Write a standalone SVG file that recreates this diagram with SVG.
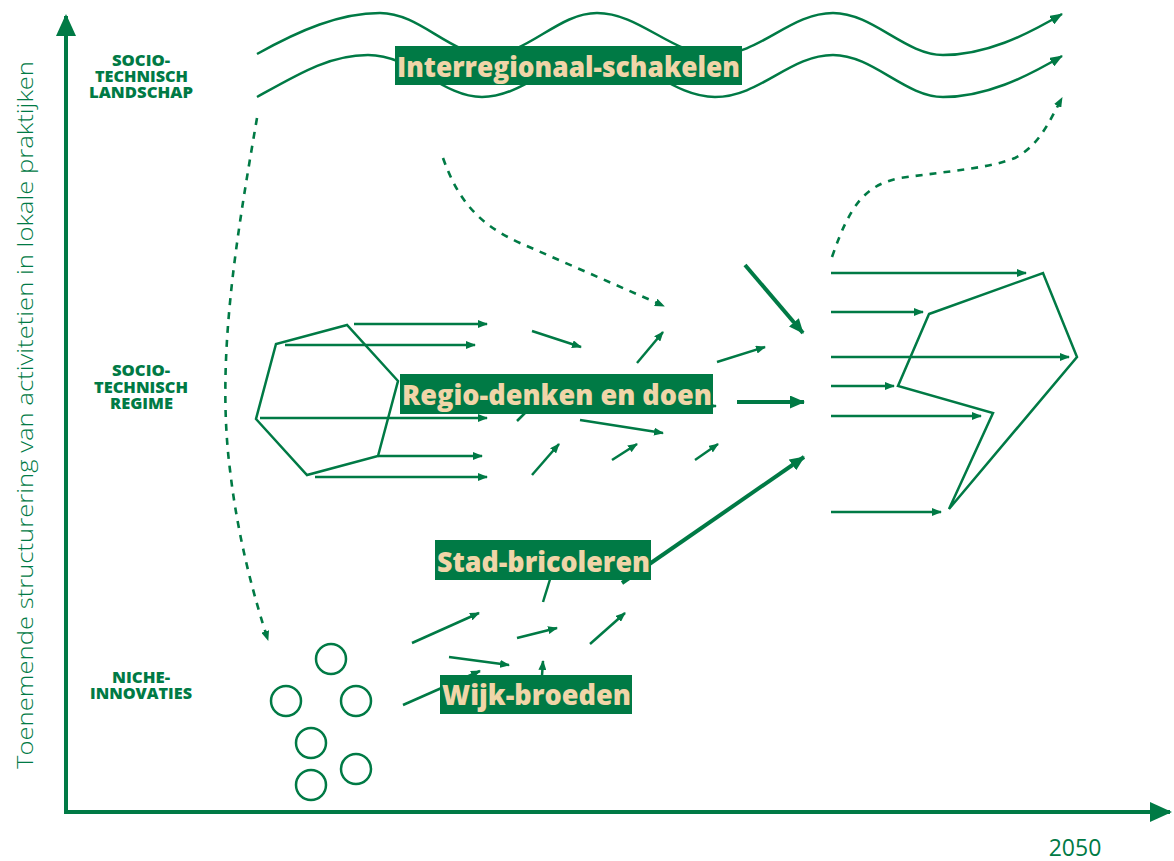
<svg xmlns="http://www.w3.org/2000/svg" width="1174" height="861" viewBox="0 0 1174 861">
  <style>
    .ln { fill: none; stroke: #007A45; stroke-width: 2.5; }
    .thick { fill: none; stroke: #007A45; stroke-width: 4; }
    .dash { fill: none; stroke: #007A45; stroke-width: 2.6; stroke-dasharray: 7 7; }
    .shape { fill: none; stroke: #007A45; stroke-width: 2.5; stroke-linejoin: miter; }
    .axis { fill: none; stroke: #007A45; stroke-width: 4; }
    .lvl { fill: #007A45; font-family: "Open Sans", "Liberation Sans", sans-serif; font-weight: 800; font-size: 15px; }
    .tag rect { fill: #007A45; }
    .tag text { fill: #F0D5A8; font-family: "Open Sans", "Liberation Sans", sans-serif; font-weight: 800; font-size: 29px; }
    .ax-label { fill: #007A45; font-family: "Open Sans", "Liberation Sans", sans-serif; font-weight: 300; font-size: 22px; }
  </style>
  <defs>
    <marker id="ah" markerUnits="userSpaceOnUse" markerWidth="10" markerHeight="8" refX="9" refY="4" orient="auto">
      <path d="M0,0 L10,4 L0,8 z" fill="#007A45"/>
    </marker>
    <marker id="ah-big" markerUnits="userSpaceOnUse" markerWidth="15" markerHeight="13" refX="14" refY="6.5" orient="auto">
      <path d="M0,0 L15,6.5 L0,13 z" fill="#007A45"/>
    </marker>
    <marker id="ah-wave" markerUnits="userSpaceOnUse" markerWidth="13" markerHeight="10" refX="12" refY="5" orient="auto">
      <path d="M0,0 L13,5 L0,10 z" fill="#007A45"/>
    </marker>
    <marker id="ah-axis" markerUnits="userSpaceOnUse" markerWidth="22" markerHeight="20" refX="20" refY="10" orient="auto">
      <path d="M0,0 L22,10 L0,20 z" fill="#007A45"/>
    </marker>
  </defs>

  <!-- axes -->
  <g id="axes">
    <line class="axis" x1="66" y1="814" x2="66" y2="16" marker-end="url(#ah-axis)"/>
    <line class="axis" x1="64" y1="812" x2="1170" y2="812" marker-end="url(#ah-axis)"/>
    <text class="ax-label" transform="translate(33,415) rotate(-90)" text-anchor="middle" textLength="708" lengthAdjust="spacingAndGlyphs">Toenemende structurering van activitetien in lokale praktijken</text>
    <text x="1075" y="856" text-anchor="middle" style="fill:#007A45;font-family:'Open Sans','Liberation Sans',sans-serif;font-size:23px">2050</text>
  </g>

  <!-- level labels -->
  <g id="level-landscape">
    <text class="lvl"><tspan x="112" y="66" textLength="58" lengthAdjust="spacingAndGlyphs">SOCIO-</tspan><tspan x="95" y="82" textLength="93" lengthAdjust="spacingAndGlyphs">TECHNISCH</tspan><tspan x="89" y="98" textLength="104" lengthAdjust="spacingAndGlyphs">LANDSCHAP</tspan></text>
  </g>
  <g id="level-regime">
    <text class="lvl"><tspan x="112" y="376" textLength="58" lengthAdjust="spacingAndGlyphs">SOCIO-</tspan><tspan x="94" y="393" textLength="94" lengthAdjust="spacingAndGlyphs">TECHNISCH</tspan><tspan x="110" y="409" textLength="63" lengthAdjust="spacingAndGlyphs">REGIME</tspan></text>
  </g>
  <g id="level-niche">
    <text class="lvl"><tspan x="112" y="683" textLength="58" lengthAdjust="spacingAndGlyphs">NICHE-</tspan><tspan x="90" y="699" textLength="102" lengthAdjust="spacingAndGlyphs">INNOVATIES</tspan></text>
  </g>

  <!-- connectors -->
  <g id="connectors">
    <!-- landscape waves -->
    <path class="ln" marker-end="url(#ah-wave)" d="M257,54 C300,30 340,13 380,13 C420,13 450,55 488,55 C528,55 558,13 597,13 C640,13 672,55 715,55 C760,55 790,13 833,13 C873,13 905,55 943,55 C985,55 1025,36 1062,14"/>
    <path class="ln" marker-end="url(#ah-wave)" d="M257,97 C300,73 330,55 368,55 C412,55 442,97 482,97 C524,97 556,55 597,55 C640,55 672,97 715,97 C760,97 790,55 833,55 C873,55 905,97 943,97 C985,97 1025,78 1062,56"/>

    <!-- dashed influences -->
    <path class="dash" marker-end="url(#ah)" d="M257,118 C236,240 216,360 230,470 C238,540 255,600 268,640"/>
    <path class="dash" marker-end="url(#ah)" d="M443,158 C458,200 478,224 520,243 L664,306"/>
    <path class="dash" marker-end="url(#ah)" d="M832,257 C850,205 865,185 900,178 C950,171 990,168 1015,158 C1040,145 1050,120 1062,98"/>

    <!-- regime outflows -->
    <line class="ln" marker-end="url(#ah)" x1="354" y1="324" x2="487" y2="324"/>
    <line class="ln" marker-end="url(#ah)" x1="285" y1="345" x2="475" y2="345"/>
    <line class="ln" marker-end="url(#ah)" x1="260" y1="418" x2="487" y2="418"/>
    <line class="ln" marker-end="url(#ah)" x1="378" y1="456" x2="482" y2="456"/>
    <line class="ln" marker-end="url(#ah)" x1="315" y1="477" x2="487" y2="477"/>

    <!-- middle field -->
    <line class="ln" marker-end="url(#ah)" x1="532" y1="331" x2="581" y2="347"/>
    <line class="ln" marker-end="url(#ah)" x1="637" y1="363" x2="663" y2="332"/>
    <line class="ln" marker-end="url(#ah)" x1="717" y1="362" x2="765" y2="347"/>
    <line class="ln" marker-end="url(#ah)" x1="580" y1="420" x2="663" y2="433"/>
    <line class="ln" marker-end="url(#ah)" x1="532" y1="475" x2="559" y2="444"/>
    <line class="ln" marker-end="url(#ah)" x1="612" y1="460" x2="637" y2="444"/>
    <line class="ln" marker-end="url(#ah)" x1="695" y1="460" x2="718" y2="444"/>
    <line class="ln" marker-end="url(#ah)" x1="517" y1="421" x2="545" y2="393"/>
    <line class="ln" marker-end="url(#ah)" x1="640" y1="406" x2="716" y2="406"/>

    <!-- converging thick arrows -->
    <line class="thick" marker-end="url(#ah-big)" x1="745" y1="265" x2="803" y2="333"/>
    <line class="thick" marker-end="url(#ah-big)" x1="737" y1="402" x2="804" y2="402"/>
    <line class="thick" marker-end="url(#ah-big)" x1="622" y1="583" x2="804" y2="457"/>

    <!-- new regime inflows -->
    <line class="ln" marker-end="url(#ah)" x1="831" y1="273" x2="1026" y2="273"/>
    <line class="ln" marker-end="url(#ah)" x1="831" y1="312" x2="923" y2="312"/>
    <line class="ln" marker-end="url(#ah)" x1="831" y1="357" x2="1069" y2="357"/>
    <line class="ln" marker-end="url(#ah)" x1="831" y1="386" x2="894" y2="386"/>
    <line class="ln" marker-end="url(#ah)" x1="831" y1="416" x2="981" y2="416"/>
    <line class="ln" marker-end="url(#ah)" x1="831" y1="512" x2="941" y2="512"/>

    <!-- niche field -->
    <line class="ln" marker-end="url(#ah)" x1="412" y1="643" x2="479" y2="613"/>
    <line class="ln" marker-end="url(#ah)" x1="517" y1="638" x2="557" y2="628"/>
    <line class="ln" marker-end="url(#ah)" x1="590" y1="644" x2="625" y2="613"/>
    <line class="ln" marker-end="url(#ah)" x1="449" y1="657" x2="509" y2="665"/>
    <line class="ln" marker-end="url(#ah)" x1="541" y1="690" x2="543" y2="661"/>
    <line class="ln" marker-end="url(#ah)" x1="403" y1="705" x2="480" y2="671"/>
    <line class="ln" marker-end="url(#ah)" x1="543" y1="602" x2="556" y2="560"/>
  </g>

  <!-- regime shape -->
  <g id="regime">
    <polygon class="shape" points="347,325 276,344 256,419 307,475 378,456 398,381"/>
  </g>

  <!-- new regime shape -->
  <g id="new-regime">
    <polygon class="shape" points="929,314 1043,273 1077,357 949,509 993,413 898,386"/>
  </g>

  <!-- niche innovations -->
  <g id="niches" class="shape">
    <circle cx="331" cy="659" r="15"/>
    <circle cx="286" cy="701" r="15"/>
    <circle cx="356" cy="701" r="15"/>
    <circle cx="311" cy="743" r="15"/>
    <circle cx="356" cy="769" r="15"/>
    <circle cx="311" cy="785" r="15"/>
  </g>

  <!-- practice labels -->
  <g id="interregionaal-schakelen" class="tag">
    <rect x="395" y="46" width="347" height="39"/>
    <text x="397" y="77" textLength="343" lengthAdjust="spacingAndGlyphs">Interregionaal-schakelen</text>
  </g>
  <g id="regio-denken-en-doen" class="tag">
    <rect x="400" y="374" width="313" height="40"/>
    <text x="402" y="405" textLength="310" lengthAdjust="spacingAndGlyphs">Regio-denken en doen</text>
  </g>
  <g id="stad-bricoleren" class="tag">
    <rect x="435" y="540" width="216" height="40"/>
    <text x="437" y="572" textLength="213" lengthAdjust="spacingAndGlyphs">Stad-bricoleren</text>
  </g>
  <g id="wijk-broeden" class="tag">
    <rect x="440" y="675" width="192" height="39"/>
    <text x="442" y="705" textLength="189" lengthAdjust="spacingAndGlyphs">Wijk-broeden</text>
  </g>
</svg>
